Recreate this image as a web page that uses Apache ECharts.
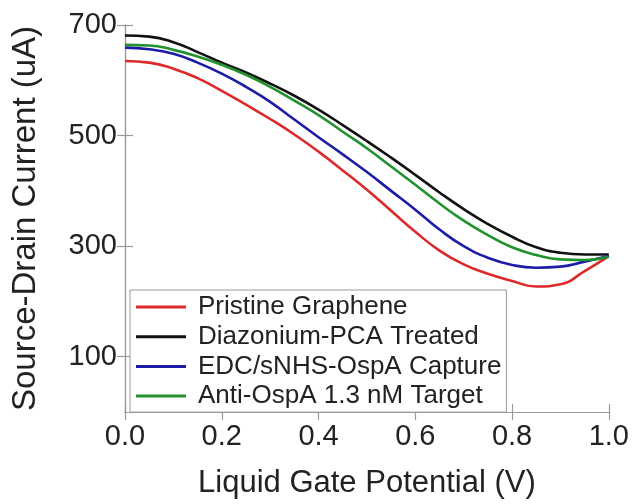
<!DOCTYPE html>
<html>
<head>
<meta charset="utf-8">
<title>Source-Drain Current vs Liquid Gate Potential</title>
<script src="https://cdn.jsdelivr.net/npm/echarts@6/dist/echarts.min.js"></script>
<style>
  html, body { margin: 0; padding: 0; background: #fff; }
  #chart { width: 632px; height: 504px; }
</style>
</head>
<body>
<div id="chart"></div>
<script>
// Gate voltage sweep (V)
const voltage = [0.00, 0.05, 0.10, 0.15, 0.20, 0.25, 0.30, 0.35, 0.40, 0.45, 0.50,
                 0.55, 0.60, 0.65, 0.70, 0.75, 0.80, 0.85, 0.90, 0.95, 1.00];

// Source-drain current (uA) for each functionalisation step
const pristine   = [635, 632, 621, 604, 581, 556, 530, 502, 471, 437, 402,
                    364, 326, 292, 267, 250, 237, 227, 231, 255, 282];
const diazonium  = [681, 679, 669, 651, 632, 614, 594, 572, 547, 519, 490,
                    460, 429, 397, 367, 340, 317, 298, 288, 285, 285];
const edcCapture = [659, 656, 648, 632, 612, 588, 561, 529, 497, 466, 434,
                    400, 366, 330, 300, 279, 266, 261, 263, 272, 282];
const antiTarget = [664, 663, 655, 643, 628, 610, 588, 563, 537, 507, 477,
                    444, 411, 377, 346, 320, 298, 284, 276, 275, 281];

const seriesNames = ['Pristine Graphene', 'Diazonium-PCA Treated',
                     'EDC/sNHS-OspA Capture', 'Anti-OspA 1.3 nM Target'];
const seriesValues = [pristine, diazonium, edcCapture, antiTarget];
const seriesColors = ['#dc2a2a', '#111111', '#1c1ca8', '#22922e'];

const xTicks = [0, 0.2, 0.4, 0.6, 0.8, 1.0];
const yTicks = [100, 300, 500, 700];

const FONT = "'Liberation Sans', Arial, sans-serif";
const AXIS_GRAY = '#9a9a9a';

const chart = echarts.init(document.getElementById('chart'), null, { renderer: 'canvas' });

function pairs(values) {
  return voltage.map((v, i) => [v, values[i]]);
}

const frameAxis = {
  axisLine: { show: true, lineStyle: { color: AXIS_GRAY, width: 1.2 } },
  axisTick: { show: true, inside: true, length: 8, lineStyle: { color: AXIS_GRAY, width: 1.2 } },
  splitLine: { show: false }
};

const option = {
  backgroundColor: '#ffffff',
  animation: false,
  textStyle: { fontFamily: FONT },
  grid: { left: 125, right: 22, top: 25, bottom: 88, containLabel: false },
  legend: {
    show: true,
    orient: 'vertical',
    left: 130,
    top: 290,
    icon: 'rect',
    itemWidth: 50,
    itemHeight: 3,
    itemGap: 3.7,
    padding: [4, 5, 3, 6],
    backgroundColor: '#ffffff',
    borderColor: '#9a9a9a',
    borderWidth: 1,
    borderRadius: 0,
    data: seriesNames,
    textStyle: {
      fontFamily: FONT,
      fontSize: 26,
      lineHeight: 26,
      color: '#222',
      padding: [0, 0, 0, 7]
    }
  },
  xAxis: [
    Object.assign({}, frameAxis, {
      type: 'value',
      position: 'bottom',
      min: 0,
      max: 1,
      interval: 0.2,
      name: 'Liquid Gate Potential (V)',
      nameLocation: 'middle',
      nameGap: 56,
      nameTextStyle: { fontFamily: FONT, fontSize: 31, color: '#222' },
      axisLabel: {
        show: true,
        margin: 10,
        fontFamily: FONT,
        fontSize: 29,
        color: '#222',
        customValues: xTicks,
        formatter: v => v.toFixed(1)
      }
    }),
    Object.assign({}, frameAxis, {
      type: 'value',
      position: 'top',
      min: 0,
      max: 1,
      interval: 0.2,
      axisLabel: { show: false }
    })
  ],
  yAxis: [
    Object.assign({}, frameAxis, {
      type: 'value',
      position: 'left',
      min: 0,
      max: 700,
      name: 'Source-Drain Current (uA)',
      nameLocation: 'middle',
      nameRotate: 90,
      nameGap: 83,
      nameTruncate: { maxWidth: 1000 },
      nameTextStyle: {
        fontFamily: FONT,
        fontSize: 33,
        color: '#222',
        width: 600,
        overflow: 'none'
      },
      axisTick: Object.assign({}, frameAxis.axisTick, { customValues: yTicks }),
      axisLabel: {
        show: true,
        margin: 8,
        fontFamily: FONT,
        fontSize: 29,
        color: '#222',
        customValues: yTicks
      }
    }),
    Object.assign({}, frameAxis, {
      type: 'value',
      position: 'right',
      min: 0,
      max: 700,
      axisTick: Object.assign({}, frameAxis.axisTick, { customValues: yTicks }),
      axisLabel: { show: false }
    })
  ],
  series: seriesNames.map((name, i) => ({
    name: name,
    type: 'line',
    xAxisIndex: 0,
    yAxisIndex: 0,
    data: pairs(seriesValues[i]),
    smooth: 0.5,
    showSymbol: false,
    symbol: 'none',
    color: seriesColors[i],
    lineStyle: { color: seriesColors[i], width: 2.6 },
    emphasis: { disabled: true }
  }))
};

chart.setOption(option);
</script>
</body>
</html>
